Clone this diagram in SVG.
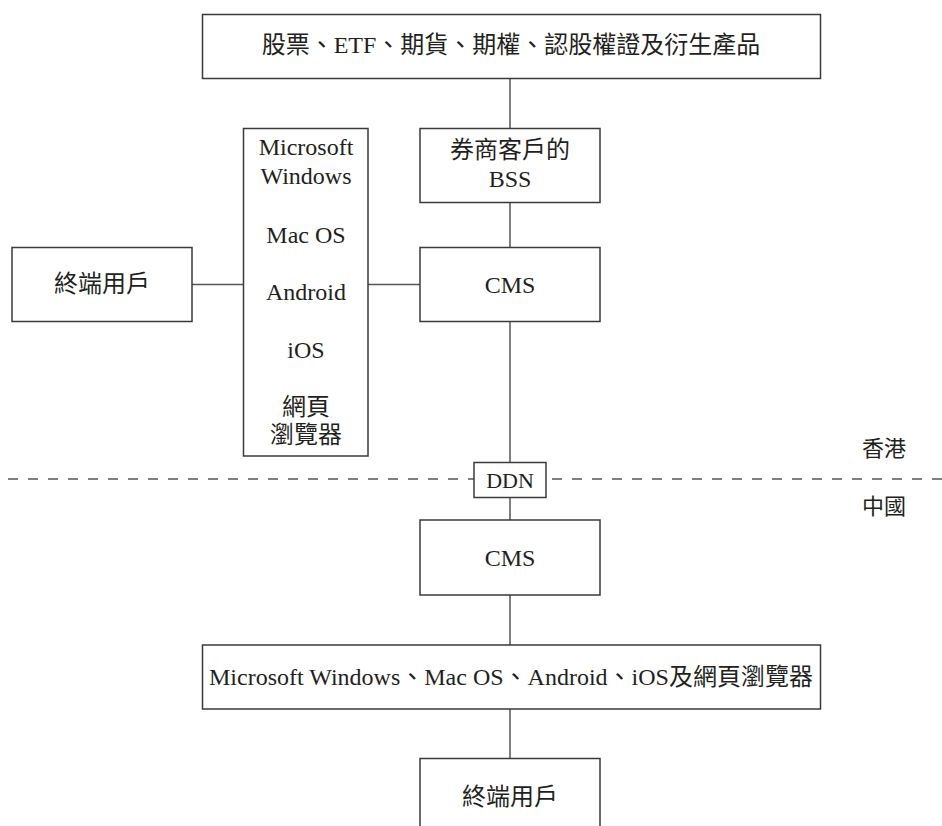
<svg xmlns="http://www.w3.org/2000/svg" width="942" height="826" viewBox="0 0 942 826">
<style>
  .box { fill: #ffffff; stroke: #3a3a3a; stroke-width: 1.5; }
  .ln { stroke: #555555; stroke-width: 1.5; fill: none; }
  .dash { stroke: #555555; stroke-width: 1.3; stroke-dasharray: 10 10; fill: none; }
  text { font-family: 'Liberation Serif', 'Times New Roman', Tinos, 'DejaVu Serif', 'Noto Sans CJK TC', serif; font-size: 24px; fill: #231f20; text-anchor: middle; }
  .sm { font-size: 22px; }
</style>
<rect width="942" height="826" fill="#ffffff"/>
<g id="connectors">
  <line class="ln" x1="510" y1="78.5" x2="510" y2="128.5"/>
  <line class="ln" x1="510" y1="202.5" x2="510" y2="247.5"/>
  <line class="ln" x1="192" y1="284.5" x2="243.5" y2="284.5"/>
  <line class="ln" x1="368" y1="284.5" x2="420" y2="284.5"/>
  <line class="ln" x1="510" y1="321.5" x2="510" y2="462.5"/>
  <line class="ln" x1="510" y1="497.5" x2="510" y2="520"/>
  <line class="ln" x1="510" y1="595" x2="510" y2="645"/>
  <line class="ln" x1="510" y1="709" x2="510" y2="758.5"/>
  <line class="dash" x1="8" y1="479" x2="474" y2="479"/>
  <line class="dash" x1="552" y1="479" x2="942" y2="479"/>
</g>
<g id="products">
  <rect class="box" x="202.5" y="14.5" width="618" height="64"/>
  <text x="511" y="53">股票、ETF、期貨、期權、認股權證及衍生產品</text>
</g>
<g id="bss">
  <rect class="box" x="420" y="128.5" width="180" height="74"/>
  <text x="510" y="158">券商客戶的</text>
  <text x="510" y="187">BSS</text>
</g>
<g id="platforms-hk">
  <rect class="box" x="243.5" y="128.5" width="124.5" height="327.5"/>
  <text x="306" y="155">Microsoft</text>
  <text x="306" y="184">Windows</text>
  <text x="306" y="243">Mac OS</text>
  <text x="306" y="300">Android</text>
  <text x="306" y="358">iOS</text>
  <text x="306" y="415">網頁</text>
  <text x="306" y="443">瀏覽器</text>
</g>
<g id="user-hk">
  <rect class="box" x="12" y="247.5" width="180" height="74"/>
  <text x="102" y="292">終端用戶</text>
</g>
<g id="cms-hk">
  <rect class="box" x="420" y="247.5" width="180" height="74"/>
  <text x="510" y="293">CMS</text>
</g>
<g id="region-labels">
  <text class="sm" x="884" y="456">香港</text>
  <text class="sm" x="884" y="514">中國</text>
</g>
<g id="ddn">
  <rect class="box" x="474" y="462.5" width="72" height="35"/>
  <text class="sm" x="510" y="488">DDN</text>
</g>
<g id="cms-cn">
  <rect class="box" x="420" y="520" width="180" height="75"/>
  <text x="510" y="566">CMS</text>
</g>
<g id="platforms-cn">
  <rect class="box" x="202.5" y="645" width="618" height="64"/>
  <text x="511" y="685">Microsoft Windows、Mac OS、Android、iOS及網頁瀏覽器</text>
</g>
<g id="user-cn">
  <rect class="box" x="420" y="758.5" width="180" height="80"/>
  <text x="510" y="805">終端用戶</text>
</g>
</svg>
